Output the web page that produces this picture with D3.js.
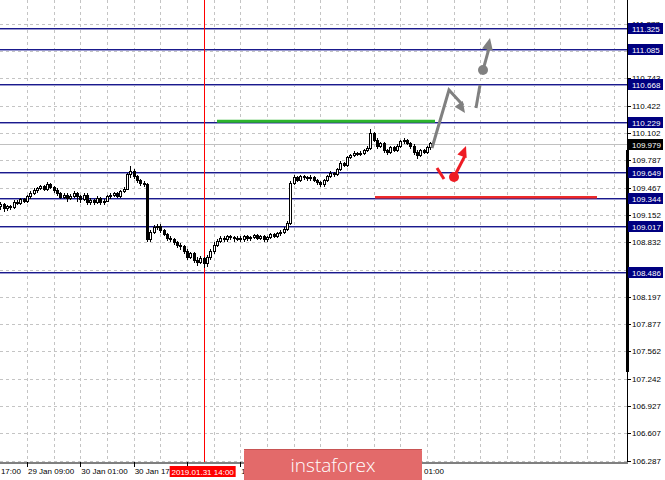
<!DOCTYPE html>
<html><head><meta charset="utf-8">
<script src="https://cdn.jsdelivr.net/npm/d3@7"></script>
<style>body{margin:0;background:#fff}svg{display:block}</style>
</head><body>
<svg id="c" width="665" height="480"></svg>
<script>
// ---- data ----
const firstOpen = 109.25;
const closes = [109.27,109.22,109.25,109.24,109.30,109.28,109.33,109.31,109.36,109.40,
109.43,109.46,109.48,109.45,109.50,109.47,109.44,109.40,109.35,109.38,
109.34,109.37,109.40,109.36,109.33,109.38,109.30,109.32,109.30,109.34,
109.29,109.31,109.36,109.38,109.40,109.37,109.42,109.45,109.62,109.66,
109.60,109.55,109.52,109.50,108.86,108.95,109.00,109.02,108.97,108.92,
108.88,108.86,108.83,108.80,108.78,108.72,108.66,108.70,108.62,108.60,
108.64,108.58,108.66,108.72,108.80,108.84,108.88,108.86,108.90,108.89,
108.87,108.88,108.86,108.90,108.87,108.89,108.91,108.88,108.90,108.86,
108.89,108.92,108.90,108.93,108.95,108.98,109.05,109.52,109.58,109.55,
109.60,109.58,109.57,109.59,109.55,109.53,109.50,109.55,109.60,109.63,
109.62,109.68,109.75,109.73,109.82,109.84,109.86,109.85,109.87,109.90,
109.92,110.10,110.02,109.95,109.98,109.90,109.88,109.93,109.90,109.95,
110.00,110.02,109.98,109.95,109.88,109.84,109.90,109.88,109.93,109.98];
const highs = [109.30,109.29,109.27,109.27,109.32,109.32,109.35,109.35,109.38,109.43,
109.46,109.48,109.50,109.50,109.53,109.52,109.49,109.46,109.42,109.41,
109.40,109.39,109.43,109.42,109.38,109.40,109.40,109.35,109.34,109.37,
109.36,109.34,109.38,109.40,109.42,109.42,109.44,109.48,109.64,109.72,
109.68,109.62,109.57,109.54,109.52,108.98,109.03,109.04,109.04,108.99,
108.94,108.90,108.88,108.85,108.82,108.80,108.75,108.72,108.72,108.66,
108.67,108.66,108.68,108.75,108.83,108.87,108.91,108.90,108.92,108.92,
108.91,108.91,108.90,108.92,108.92,108.91,108.93,108.93,108.92,108.92,
108.91,108.94,108.94,108.95,108.97,109.01,109.08,109.55,109.62,109.60,
109.62,109.61,109.60,109.61,109.60,109.57,109.55,109.57,109.62,109.66,
109.65,109.70,109.78,109.77,109.84,109.86,109.89,109.88,109.89,109.92,
109.95,110.15,110.12,110.04,110.00,110.00,109.92,109.95,109.95,109.97,
110.02,110.04,110.03,110.00,109.97,109.90,109.92,109.92,109.95,110.00];
const lows = [109.21,109.18,109.20,109.21,109.22,109.26,109.27,109.29,109.29,109.34,
109.38,109.41,109.44,109.43,109.43,109.45,109.40,109.37,109.33,109.33,
109.30,109.32,109.35,109.30,109.29,109.31,109.27,109.27,109.26,109.28,
109.27,109.27,109.30,109.34,109.36,109.35,109.35,109.40,109.44,109.58,
109.57,109.52,109.49,109.47,108.83,108.84,108.93,108.97,108.94,108.90,
108.85,108.83,108.80,108.77,108.74,108.69,108.63,108.64,108.59,108.56,
108.58,108.53,108.55,108.63,108.70,108.78,108.82,108.83,108.84,108.86,
108.84,108.85,108.83,108.84,108.85,108.85,108.87,108.86,108.86,108.83,
108.84,108.87,108.88,108.88,108.91,108.93,108.96,109.03,109.50,109.53,
109.53,109.56,109.55,109.55,109.53,109.50,109.48,109.48,109.53,109.58,
109.59,109.60,109.66,109.71,109.71,109.80,109.82,109.83,109.83,109.85,
109.88,109.90,110.00,109.92,109.93,109.87,109.85,109.86,109.88,109.88,
109.93,109.98,109.96,109.92,109.85,109.80,109.82,109.86,109.86,109.91];

const levels = [111.325,111.085,110.668,110.229,109.649,109.344,109.017,108.486];
const priceTicks = [111.377,111.057,110.743,110.422,110.102,109.787,109.467,109.152,108.832,108.197,107.877,107.562,107.242,106.927,106.607,106.287];
const gridTicks = [111.377,111.057,110.743,110.422,110.102,109.787,109.467,109.152,108.832,108.512,108.197,107.877,107.562,107.242,106.927,106.607,106.287];
const bidPrice = 109.979;
const timeTickBars = [-8,8,24,40,56,72,88,104,120];
const timeLabelBars = [-8,8,24,40,72,120];
const timeTickLabels = ["28 Jan 17:00","29 Jan 09:00","30 Jan 01:00","30 Jan 17:00","1 Feb 01:00","5 Feb 01:00"];
const markerBar = 61, markerLabel = "2019.01.31 14:00";
const greenLine = {from:65, to:130.4, price:110.24};
const redLine = {from:112.4, to:179, price:109.357};
const grayPath = [[129.5,109.929],[134.6,110.604],[139.4,110.336]];
const graySeg = [[142.7,110.394],[143.9,110.662]];
const grayArrow = [[144.8,110.836],[146.9,111.209]];
const redSeg = [[131.0,109.696],[133.1,109.568]];
const redArrow = [[136.1,109.591],[139.7,109.952]];

// ---- scales ----
const svg = d3.select("#c");
const W = 627, H = 462;
const x = d3.scaleLinear().domain([0, 129]).range([0.33, 0.33 + 129*3.3333]);
const y = d3.scaleLinear().domain([106.287, 111.325]).range([461, 28]);

// grid
const grid = svg.append("g").attr("shape-rendering","crispEdges");
grid.selectAll("line.h").data(gridTicks).join("line")
  .attr("x1",0).attr("x2",W).attr("y1",d=>Math.round(y(d))+0.5).attr("y2",d=>Math.round(y(d))+0.5)
  .attr("stroke","#c4c4c4").attr("stroke-dasharray","3,3");
const vGridBars = d3.range(8, 200, 8).filter(b => x(b) < W);
grid.selectAll("line.v").data(vGridBars).join("line")
  .attr("x1",d=>Math.round(x(d))+0.5).attr("x2",d=>Math.round(x(d))+0.5).attr("y1",0).attr("y2",H)
  .attr("stroke","#c4c4c4").attr("stroke-dasharray","3,3");

// levels
const lv = svg.append("g").attr("shape-rendering","crispEdges");
lv.selectAll("line.a").data(levels).join("line")
  .attr("x1",0).attr("x2",W).attr("y1",d=>Math.round(y(d))+0.5).attr("y2",d=>Math.round(y(d))+0.5)
  .attr("stroke","#1a1a8c");
lv.selectAll("line.b").data(levels).join("line")
  .attr("x1",0).attr("x2",W).attr("y1",d=>Math.round(y(d))+1.5).attr("y2",d=>Math.round(y(d))+1.5)
  .attr("stroke","#9a9ad0");
// bid line
svg.append("line").attr("x1",0).attr("x2",W).attr("y1",Math.round(y(bidPrice))+0.5).attr("y2",Math.round(y(bidPrice))+0.5)
  .attr("stroke","#c0c0c0");

// green & red horizontal lines
svg.append("line").attr("x1",x(greenLine.from)).attr("x2",x(greenLine.to))
  .attr("y1",y(greenLine.price)).attr("y2",y(greenLine.price)).attr("stroke","#2db52d").attr("stroke-width",3);
svg.append("line").attr("x1",x(redLine.from)).attr("x2",x(redLine.to))
  .attr("y1",y(redLine.price)).attr("y2",y(redLine.price)).attr("stroke","#ee2a2a").attr("stroke-width",2.5);

// marker vertical
svg.append("line").attr("x1",Math.round(x(markerBar))+0.5).attr("x2",Math.round(x(markerBar))+0.5)
  .attr("y1",0).attr("y2",H).attr("stroke","#ff0000");

// candles
const data = closes.map((c,i)=>({i, o: i===0?firstOpen:closes[i-1], c, h: highs[i], l: lows[i]}));
const cg = svg.append("g").attr("shape-rendering","crispEdges");
cg.selectAll("line").data(data).join("line")
  .attr("x1",d=>Math.round(x(d.i))+0.5).attr("x2",d=>Math.round(x(d.i))+0.5)
  .attr("y1",d=>y(d.h)).attr("y2",d=>y(d.l)).attr("stroke","#000");
cg.selectAll("rect").data(data).join("rect")
  .attr("x",d=>Math.round(x(d.i))-0.5).attr("width",2)
  .attr("y",d=>y(Math.max(d.o,d.c)))
  .attr("height",d=>Math.max(1, Math.abs(y(d.o)-y(d.c))))
  .attr("fill",d=>d.c>=d.o?"#fff":"#000").attr("stroke","#000").attr("stroke-width",1);

// arrows
const line = d3.line().x(d=>x(d[0])).y(d=>y(d[1]));
function head(g, p1, p2, color, len, wid){
  const a=[x(p1[0]),y(p1[1])], b=[x(p2[0]),y(p2[1])];
  const dx=b[0]-a[0], dy=b[1]-a[1], L=Math.hypot(dx,dy), ux=dx/L, uy=dy/L;
  const bx=b[0]-ux*len, by=b[1]-uy*len;
  g.append("path").attr("d",`M${b[0]},${b[1]}L${bx-uy*wid},${by+ux*wid}L${bx+uy*wid},${by-ux*wid}Z`).attr("fill",color);
}
const ag = svg.append("g");
const gray = "#808080", red = "#ee1c24";
const gp = grayPath;
ag.append("path").attr("d",line(gp.slice(0,2).concat([[gp[2][0]-0.6,gp[2][1]+0.09]]))).attr("fill","none").attr("stroke",gray).attr("stroke-width",3).attr("stroke-linejoin","miter");
head(ag, gp[1], gp[2], gray, 11, 5);
ag.append("path").attr("d",line(graySeg)).attr("stroke",gray).attr("stroke-width",3);
ag.append("circle").attr("cx",x(grayArrow[0][0])).attr("cy",y(grayArrow[0][1])).attr("r",5).attr("fill",gray);
ag.append("path").attr("d",line([grayArrow[0],[grayArrow[1][0]-0.3,grayArrow[1][1]-0.12]])).attr("stroke",gray).attr("stroke-width",3);
head(ag, grayArrow[0], grayArrow[1], gray, 12, 5.5);
ag.append("path").attr("d",line(redSeg)).attr("stroke",red).attr("stroke-width",3);
ag.append("circle").attr("cx",x(redArrow[0][0])).attr("cy",y(redArrow[0][1])).attr("r",5).attr("fill",red);
ag.append("path").attr("d",line([redArrow[0],[redArrow[1][0]-0.4,redArrow[1][1]-0.12]])).attr("stroke",red).attr("stroke-width",3);
head(ag, redArrow[0], redArrow[1], red, 11, 5);

// right axis
const font = "Liberation Sans, Arial, sans-serif";
svg.append("line").attr("x1",W+0.5).attr("x2",W+0.5).attr("y1",0).attr("y2",H+1).attr("stroke","#000");
svg.append("line").attr("x1",W+0.5).attr("x2",W+0.5).attr("y1",150).attr("y2",372).attr("stroke","#000").attr("stroke-width",3);
const ra = svg.append("g");
ra.selectAll("line").data(gridTicks).join("line")
  .attr("x1",W).attr("x2",W+4).attr("y1",d=>Math.round(y(d))+0.5).attr("y2",d=>Math.round(y(d))+0.5).attr("stroke","#000");
ra.selectAll("text").data(priceTicks).join("text")
  .attr("x",W+5).attr("y",d=>y(d)+3).attr("font-family",font).attr("font-size",8).attr("fill","#000")
  .text(d=>d.toFixed(3));
const lb = svg.append("g");
const lvlAll = levels.map(v=>({v, bg:"#000080"})).concat([{v:bidPrice, bg:"#000"}]);
lb.selectAll("rect").data(lvlAll).join("rect")
  .attr("x",W+1).attr("y",d=>Math.round(y(d.v))-5).attr("width",35).attr("height",11).attr("fill",d=>d.bg);
lb.selectAll("text").data(lvlAll).join("text")
  .attr("x",W+5).attr("y",d=>Math.round(y(d.v))+3.5).attr("font-family",font).attr("font-size",8).attr("fill","#fff")
  .text(d=>d.v.toFixed(3));

// bottom axis
svg.append("line").attr("x1",0).attr("x2",W+1).attr("y1",H+1).attr("y2",H+1).attr("stroke","#808080").attr("stroke-width",2);
const ba = svg.append("g");
ba.selectAll("line").data(timeTickBars).join("line")
  .attr("x1",d=>Math.round(x(d))+0.5).attr("x2",d=>Math.round(x(d))+0.5).attr("y1",H).attr("y2",H+5).attr("stroke","#000");
ba.selectAll("text").data(timeLabelBars).join("text")
  .attr("x",d=>x(d)+1).attr("y",474).attr("font-family",font).attr("font-size",8).attr("fill","#000")
  .text((d,i)=>timeTickLabels[i]);
// marker date label
const mx = x(markerBar);
svg.append("rect").attr("x",mx-34).attr("y",466).attr("width",66).attr("height",11).attr("fill","#ff0000");
svg.append("text").attr("x",mx-1).attr("y",474.5).attr("text-anchor","middle").attr("font-family",font).attr("font-size",8).attr("fill","#fff").text(markerLabel);

// logo
const logo = svg.append("g");
logo.append("rect").attr("x",244).attr("y",449).attr("width",178).attr("height",40).attr("rx",2).attr("fill","#e36a6a");
logo.append("rect").attr("x",244).attr("y",449).attr("width",178).attr("height",1).attr("fill","#c85454");
logo.append("text").attr("x",333).attr("y",472).attr("text-anchor","middle").attr("font-family","Open Sans, sans-serif")
  .attr("font-weight",300).attr("font-size",19).attr("fill","#fff").text("instaforex");
</script>
</body></html>
